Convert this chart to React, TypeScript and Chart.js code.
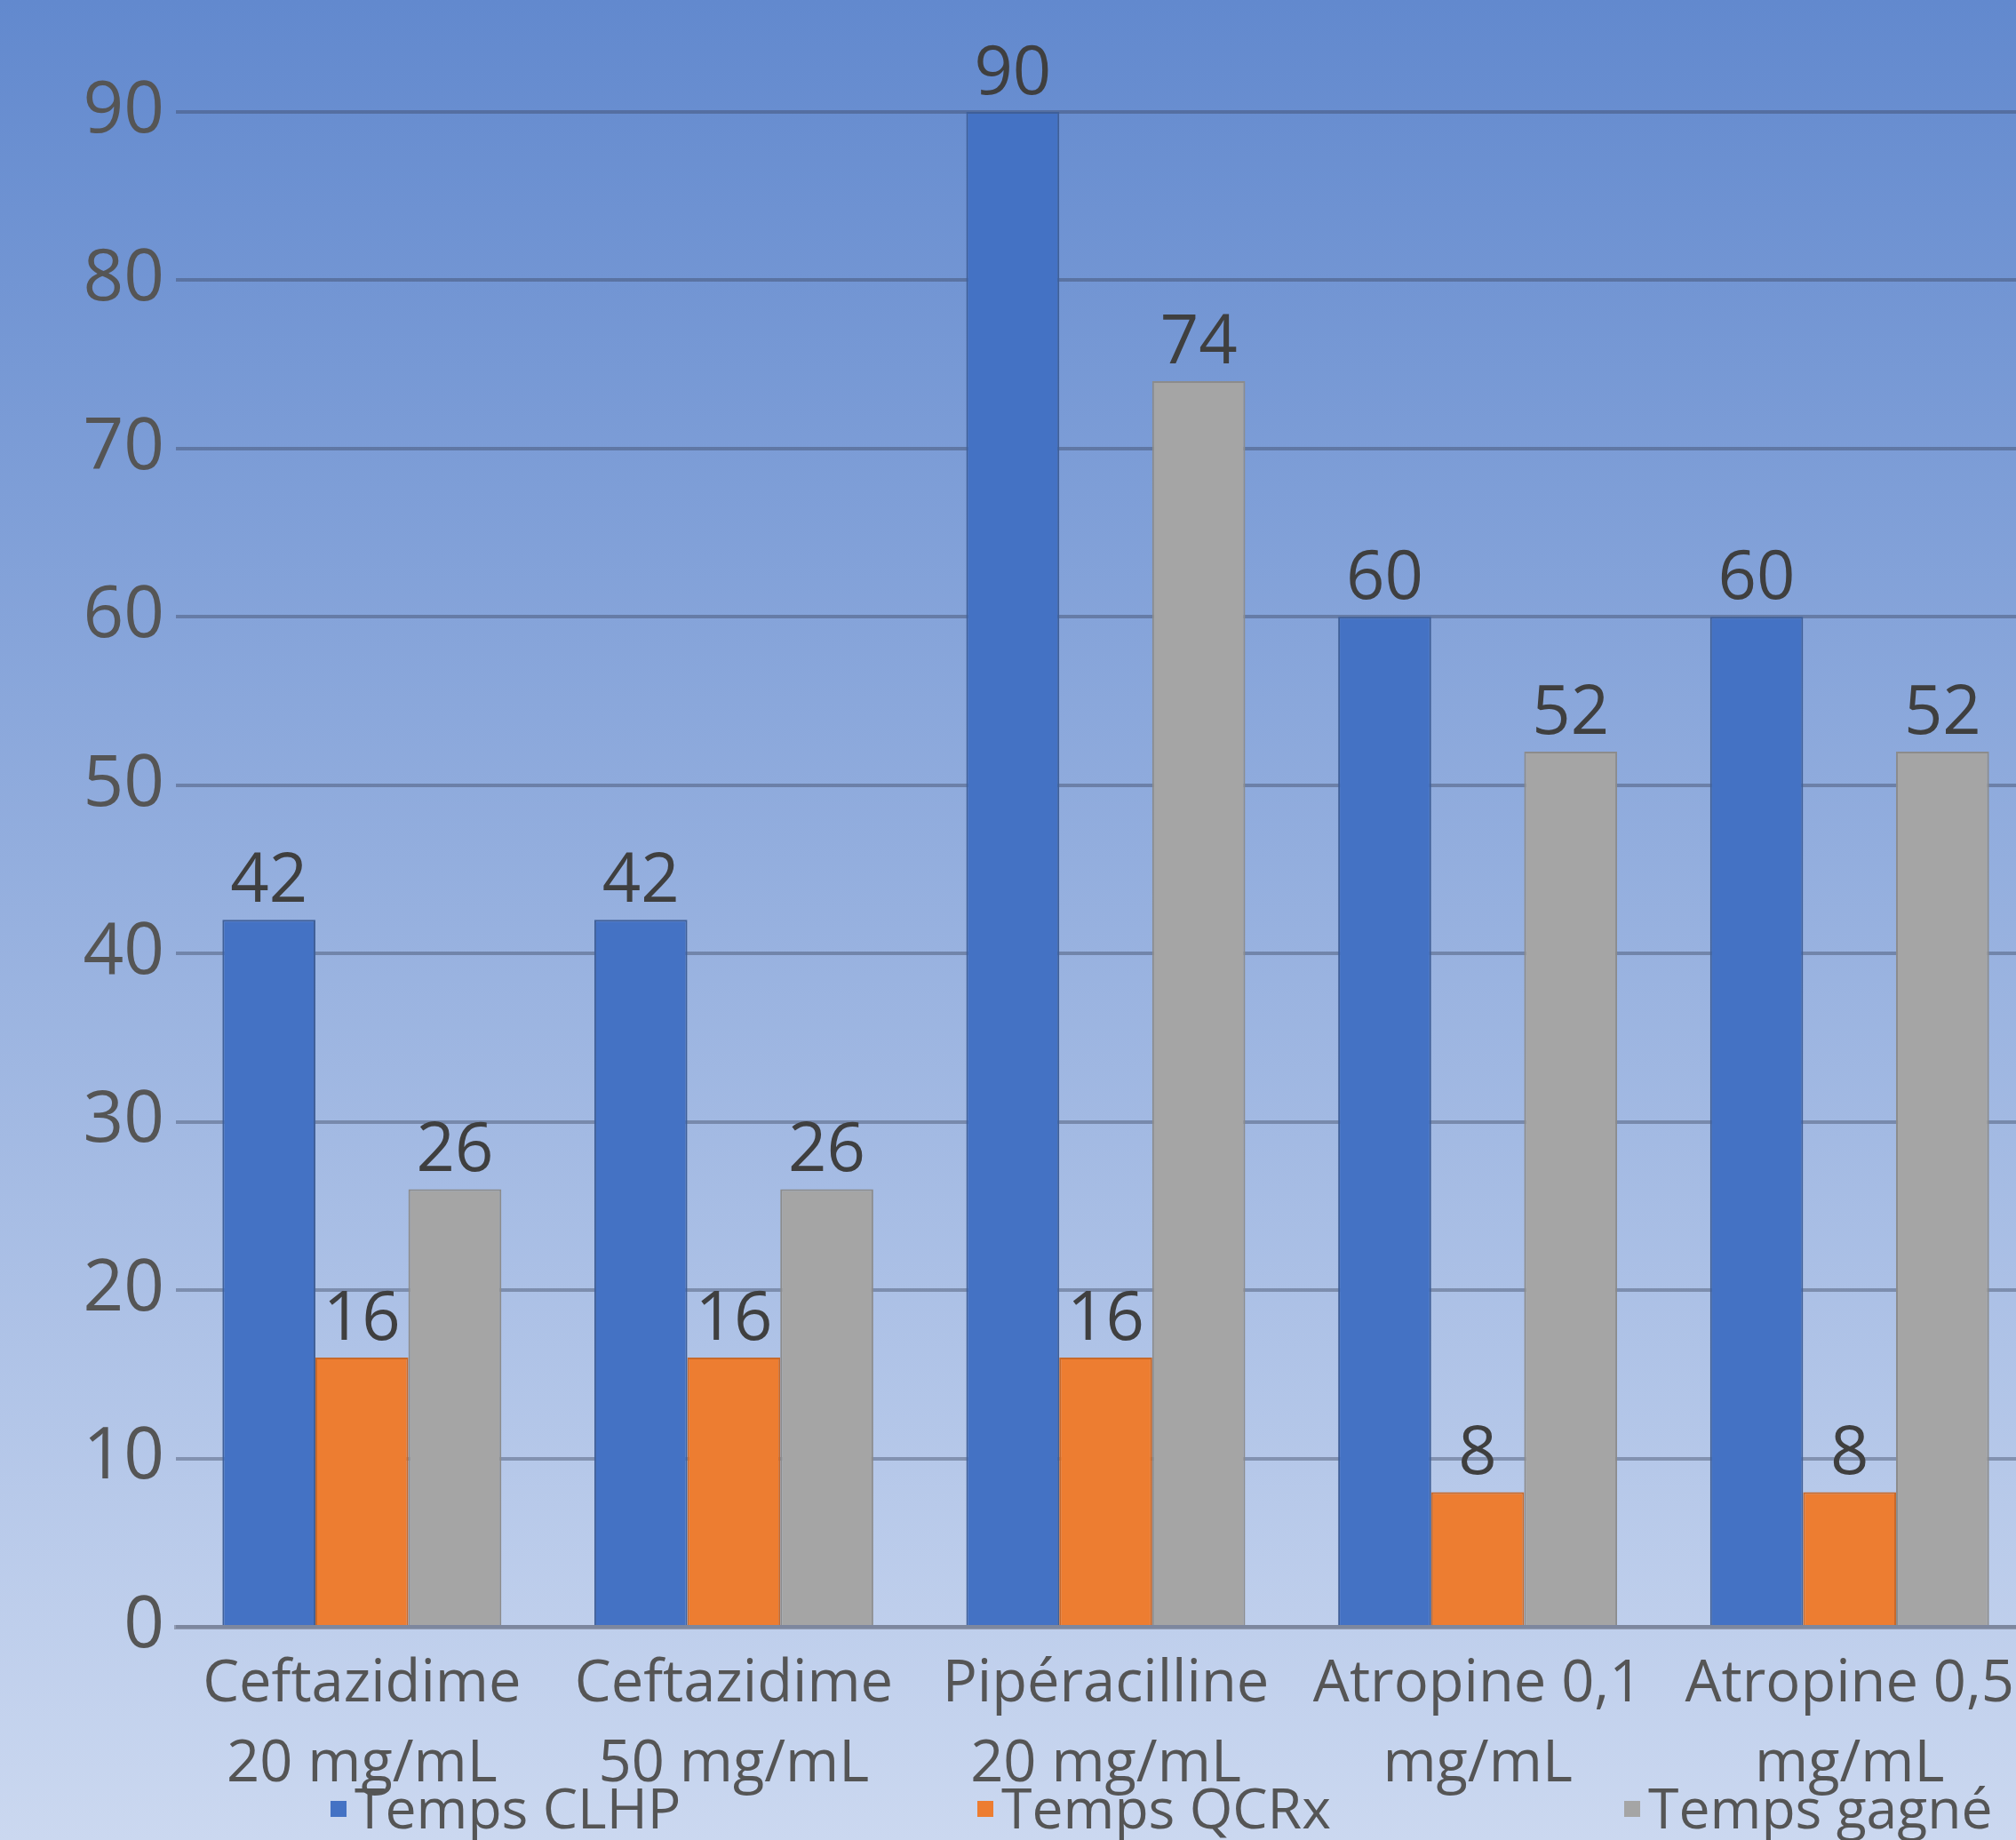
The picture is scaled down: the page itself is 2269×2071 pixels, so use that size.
import React, { useEffect, useRef } from "react";
import { Chart, registerables } from "chart.js";

Chart.register(...registerables);

const categories: string[][] = [
  ["Ceftazidime", "20 mg/mL"],
  ["Ceftazidime", "50 mg/mL"],
  ["Pipéracilline", "20 mg/mL"],
  ["Atropine 0,1", "mg/mL"],
  ["Atropine 0,5", "mg/mL"],
];
const seriesNames = ["Temps CLHP", "Temps QCRx", "Temps gagné"];
const tempsCLHP = [42, 42, 90, 60, 60];
const tempsQCRx = [16, 16, 16, 8, 8];
const tempsGagne = [26, 26, 74, 52, 52];
const yMin = 0;
const yMax = 90;
const yStep = 10;

const seriesColors = ["#4472C4", "#ED7D31", "#A5A5A5"];
const seriesBorders = ["#3F5F98", "#C8692A", "#8C8C8C"];
const FONT = "'Open Sans', 'Noto Sans', sans-serif";

const backgroundPlugin = {
  id: "bgGradient",
  beforeDraw(chart: any) {
    const { ctx, width, height } = chart;
    const g = ctx.createLinearGradient(0, 0, 0, height);
    g.addColorStop(0, "#6289ce");
    g.addColorStop(1, "#cbd8f0");
    ctx.save();
    ctx.fillStyle = g;
    ctx.fillRect(0, 0, width, height);
    ctx.restore();
  },
};

const dataLabelPlugin = {
  id: "dataLabels",
  afterDatasetsDraw(chart: any) {
    const ctx = chart.ctx;
    ctx.save();
    ctx.font = `76px ${FONT}`;
    ctx.fillStyle = "#3f3f3f";
    ctx.textAlign = "center";
    ctx.textBaseline = "alphabetic";
    chart.data.datasets.forEach((ds: any, i: number) => {
      const meta = chart.getDatasetMeta(i);
      meta.data.forEach((bar: any, j: number) => {
        ctx.fillText(String(ds.data[j]), bar.x, bar.y - 20);
      });
    });
    ctx.restore();
  },
};

const legendPlugin = {
  id: "customLegend",
  afterDraw(chart: any) {
    const ctx = chart.ctx;
    const x0 = 372;
    const step = 728;
    const baseline = 2058;
    ctx.save();
    ctx.font = `62.5px ${FONT}`;
    ctx.textAlign = "left";
    ctx.textBaseline = "alphabetic";
    chart.data.datasets.forEach((ds: any, i: number) => {
      const x = x0 + i * step;
      ctx.fillStyle = ds.backgroundColor;
      ctx.fillRect(x, 2027, 18, 18);
      ctx.fillStyle = "#555555";
      ctx.fillText(ds.label, x + 27, baseline);
    });
    ctx.restore();
  },
};

export default function App() {
  const canvasRef = useRef<HTMLCanvasElement | null>(null);

  useEffect(() => {
    if (!canvasRef.current) return;
    const values = [tempsCLHP, tempsQCRx, tempsGagne];
    const chart = new Chart(canvasRef.current, {
      type: "bar",
      data: {
        labels: categories,
        datasets: seriesNames.map((name, i) => ({
          label: name,
          data: values[i],
          backgroundColor: seriesColors[i],
          borderColor: seriesBorders[i],
          borderWidth: 2,
          barPercentage: 1.0,
          categoryPercentage: 0.75,
        })),
      },
      options: {
        animation: false,
        responsive: true,
        maintainAspectRatio: false,
        layout: { padding: { top: 126, right: 9, left: 0, bottom: 0 } },
        plugins: {
          legend: { display: false },
          tooltip: { enabled: false },
          title: { display: false },
        },
        scales: {
          x: {
            grid: { display: false, drawTicks: false },
            border: { display: true, color: "rgba(120,128,148,0.65)", width: 5 },
            ticks: {
              color: "#555555",
              font: { family: FONT, size: 65, lineHeight: 1.385 },
              padding: 20,
              maxRotation: 0,
              minRotation: 0,
              autoSkip: false,
            },
            afterFit: (s: any) => {
              s.height = 240;
            },
          },
          y: {
            min: yMin,
            max: yMax,
            grid: {
              color: "rgba(55,65,90,0.4)",
              lineWidth: 4,
              drawTicks: false,
            },
            border: { display: false },
            ticks: {
              stepSize: yStep,
              color: "#555555",
              font: { family: FONT, size: 80 },
              padding: 13,
            },
            afterFit: (s: any) => {
              s.width = 198;
            },
          },
        },
      },
      plugins: [backgroundPlugin, dataLabelPlugin, legendPlugin],
    });
    return () => chart.destroy();
  }, []);

  return (
    <div
      style={{
        position: "fixed",
        left: 0,
        top: 0,
        width: 2269,
        height: 2071,
        overflow: "hidden",
      }}
    >
      <div style={{ position: "relative", width: 2300, height: 2071 }}>
        <canvas ref={canvasRef} />
      </div>
    </div>
  );
}
